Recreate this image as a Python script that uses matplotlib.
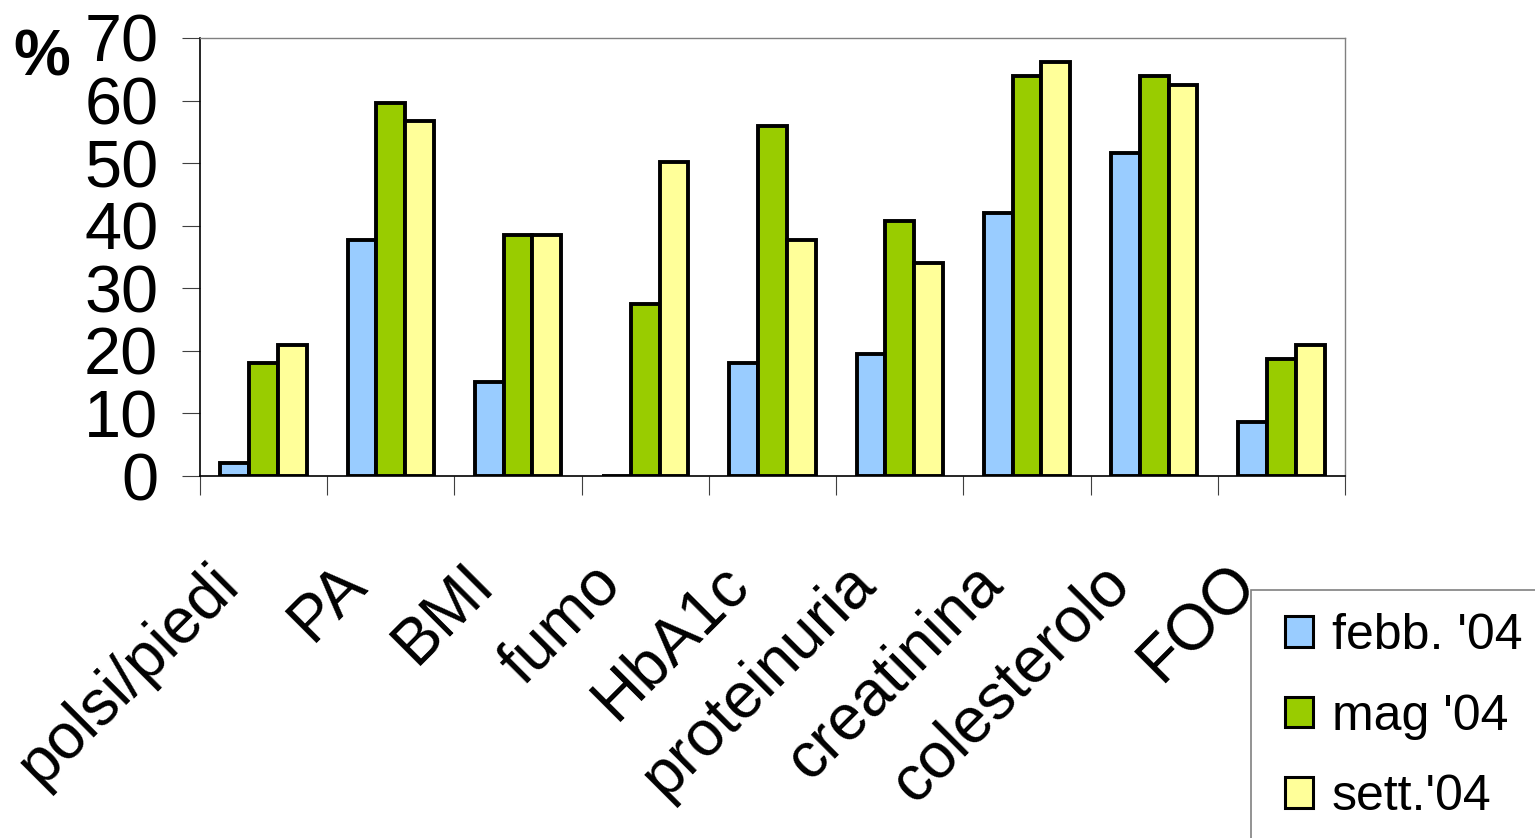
import matplotlib
matplotlib.use("Agg")
import matplotlib.pyplot as plt
import matplotlib.transforms as mtransforms
from matplotlib.patches import Rectangle
import numpy as np

categories = ["polsi/piedi", "PA", "BMI", "fumo", "HbA1c", "proteinuria",
              "creatinina", "colesterolo", "FOO"]
series_names = ["febb. '04", "mag '04", "sett.'04"]
febb = [2.0, 37.7, 15.1, 0.0, 18.0, 19.5, 42.1, 51.6, 8.6]
mag = [18.0, 59.6, 38.5, 27.5, 55.9, 40.7, 63.9, 63.9, 18.7]
sett = [20.9, 56.7, 38.5, 50.2, 37.7, 34.1, 66.2, 62.5, 20.9]
yticks = [0, 10, 20, 30, 40, 50, 60, 70]
colors = ["#99CCFF", "#99CC00", "#FFFF99"]

plt.rcParams['font.family'] = ['Liberation Sans', 'DejaVu Sans']

W, H = 1535, 838
fig = plt.figure(figsize=(W / 100, H / 100), dpi=100)
ax = fig.add_axes([200 / W, 1 - 476 / H, (1345 - 200) / W, (476 - 38) / H])

x = np.arange(len(categories))
bw = 0.226
bars = []
for k, (vals, c) in enumerate(zip([febb, mag, sett], colors)):
    b = ax.bar(x + (k - 1) * bw, vals, width=bw, color=c, edgecolor="black",
               linewidth=2.8, label=series_names[k], zorder=3)
    bars.append(b)

ax.set_xlim(-0.5, len(categories) - 0.5)
ax.set_ylim(0, 70)
ax.set_yticks(yticks)
ax.set_yticklabels([str(v) for v in yticks], fontsize=48)
ax.tick_params(axis='y', direction='out', length=13, width=0.8, pad=17,
               color='#404040')

# x major ticks at group centres (labels), minor at boundaries (tick marks)
ax.set_xticks(x)
ax.set_xticklabels(categories, fontsize=46, rotation=45, ha='right',
                   va='center', rotation_mode='anchor')
ax.tick_params(axis='x', which='major', length=0, pad=0)
ax.set_xticks(np.arange(-0.5, len(categories), 1.0), minor=True)
ax.tick_params(axis='x', which='minor', direction='out', length=14, width=0.8,
               color='#404040')
offset = mtransforms.ScaledTranslation(-0.34, -0.98, fig.dpi_scale_trans)
for lab in ax.get_xticklabels():
    lab.set_transform(lab.get_transform() + offset)

for s in ['left', 'bottom']:
    ax.spines[s].set_color('black')
    ax.spines[s].set_linewidth(1.2)
for s in ['top', 'right']:
    ax.spines[s].set_color('#808080')
    ax.spines[s].set_linewidth(1.0)

fig.text(13 / W, 1 - 59 / H, "%", fontsize=46, fontweight='bold',
         ha='left', va='center')

# legend frame
fig.patches.append(Rectangle((1251 / W, -0.05), 0.3, 1 - 590 / H + 0.05,
                             transform=fig.transFigure, facecolor='white',
                             edgecolor='#808080', linewidth=1.2, zorder=1))
leg = fig.legend(handles=bars, labels=series_names, loc='upper left',
                 bbox_to_anchor=(1285 / W, 1 - 613 / H), frameon=False,
                 fontsize=36, handlelength=0.56, handleheight=0.56,
                 handletextpad=0.38, labelspacing=0.69, borderpad=0,
                 borderaxespad=0)
for h in leg.legend_handles:
    h.set_linewidth(2.2)

fig.savefig("out.png", dpi=100)
